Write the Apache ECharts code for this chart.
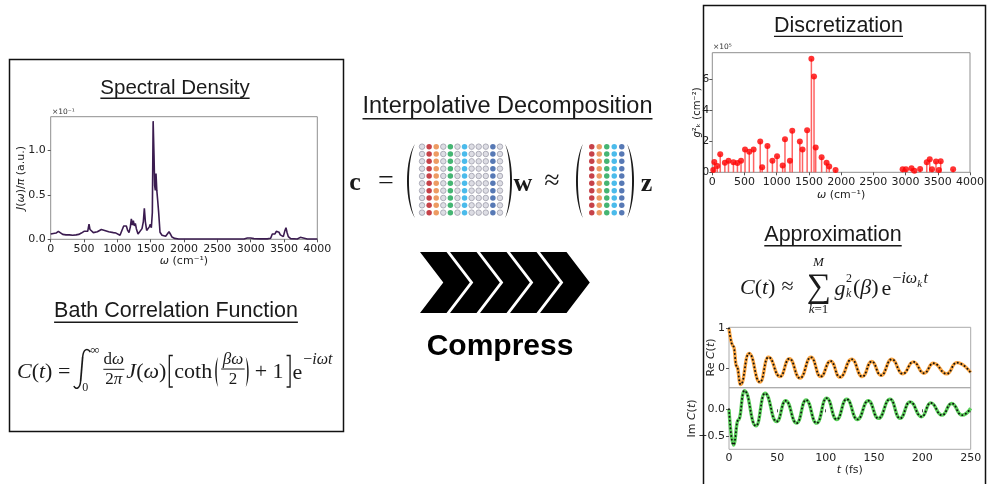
<!DOCTYPE html>
<html>
<head>
<meta charset="utf-8">
<script src="https://cdn.jsdelivr.net/npm/echarts@6/dist/echarts.min.js"></script>
<style>
html, body { margin: 0; padding: 0; background: #fff; }
#chart { width: 987px; height: 484px; }
</style>
</head>
<body>
<div id="chart"></div>
<script>
// spectral density J(w)/pi, units of 1e-1
const specOmega = [0, 40, 80, 115, 140, 180, 230, 280, 330, 380, 420, 460, 500, 530, 555, 575, 590, 610, 640, 670,
  700, 730, 760, 785, 810, 840, 870, 900, 940, 980, 1010, 1040, 1070, 1095, 1115, 1135, 1155, 1175, 1195, 1210,
  1225, 1240, 1255, 1270, 1285, 1310, 1340, 1370, 1390, 1405, 1420, 1440, 1460, 1480, 1495, 1510, 1525, 1537, 1550, 1560,
  1570, 1580, 1592, 1605, 1620, 1640, 1670, 1700, 1725, 1750, 1775, 1795, 1820, 1860, 1920, 2000, 2500, 2900, 2950, 2975,
  3000, 3050, 3150, 3250, 3300, 3325, 3345, 3365, 3385, 3405, 3425, 3445, 3470, 3490, 3515, 3530, 3545, 3565, 3600, 3700,
  3745, 3770, 3850, 4000]
const specJ = [0.06, 0.065, 0.07, 0.09, 0.07, 0.055, 0.05, 0.05, 0.045, 0.05, 0.055, 0.07, 0.09, 0.1, 0.09, 0.17, 0.11, 0.09, 0.075, 0.07,
  0.085, 0.095, 0.11, 0.125, 0.1, 0.09, 0.085, 0.08, 0.075, 0.07, 0.06, 0.045, 0.06, 0.15, 0.13, 0.15, 0.1, 0.075, 0.14, 0.23,
  0.16, 0.21, 0.15, 0.18, 0.12, 0.06, 0.07, 0.12, 0.2, 0.35, 0.2, 0.1, 0.08, 0.14, 0.17, 0.13, 0.3, 1.33, 0.95, 0.6,
  0.55, 0.74, 0.55, 0.44, 0.3, 0.08, 0.045, 0.05, 0.035, 0.04, 0.085, 0.06, 0.025, 0.01, 0.004, 0.003, 0.003, 0.004, 0.015, 0.022,
  0.015, 0.008, 0.005, 0.005, 0.012, 0.06, 0.075, 0.06, 0.09, 0.07, 0.08, 0.05, 0.035, 0.03, 0.1, 0.13, 0.08, 0.03, 0.008, 0.004,
  0.022, 0.008, 0.003, 0.003]

// discretized modes g_k^2, units of 1e5
const discOmega = [15, 31, 77, 123, 195, 251, 328, 390, 446, 508, 574, 641, 744, 774, 856, 933, 1005, 1092, 1128, 1205,
  1241, 1359, 1400, 1472, 1538, 1579, 1605, 1697, 1774, 1815, 1913, 2954, 3006, 3092, 3138, 3226, 3329, 3375, 3411, 3472,
  3518, 3545, 3738]
const discG2 = [0.15, 0.67, 0.41, 1.16, 0.62, 0.75, 0.65, 0.6, 0.75, 1.46, 1.33, 1.46, 1.98, 0.32, 1.7, 0.75, 1.03, 0.43, 2.13, 0.75,
  2.67, 1.98, 1.46, 2.71, 7.31, 6.17, 1.59, 0.97, 0.62, 0.37, 0.15, 0.19, 0.19, 0.26, 0.1, 0.22, 0.65, 0.84, 0.2, 0.69,
  0.15, 0.71, 0.19]

// correlation function, t in fs
const reT = [0, 4.5, 8, 12, 20.7, 32, 40.7, 52.8, 62.4, 73.4, 84.8, 94.8, 105, 114.8, 126.9, 137.9, 147.6, 157.2, 168.3, 179.7,
  190.7, 201.7, 211.4, 225.2, 235.5, 250]
const reC = [1.0, 0.55, 0.05, -0.41, 0.375, -0.35, 0.28, -0.21, 0.24, -0.25, 0.275, -0.21, 0.18, -0.225, 0.225, -0.21, 0.17, -0.18, 0.225, -0.14,
  0.16, -0.125, 0.125, -0.14, 0.14, -0.11]
const imT = [0, 4.5, 9.7, 15.9, 27.9, 37.2, 49.3, 58.6, 70, 79.7, 90.7, 101, 111.4, 121.7, 132.8, 144.1, 154.5, 166.6, 176.9, 187.2,
  199.3, 208.6, 220.3, 230.3, 241, 250]
const imC = [0, -0.67, -0.2, 0.35, -0.31, 0.3, -0.23, 0.16, -0.26, 0.175, -0.26, 0.21, -0.19, 0.19, -0.19, 0.16, -0.17, 0.19, -0.17, 0.14,
  -0.14, 0.12, -0.11, 0.11, -0.11, 0.02]

const specTicks = [0, 0.5, 1.0]
const discTicks = [0, 2, 4, 6]
const reTicks = [0, 1]
const imTicks = [-0.5, 0]

// matrix cartoon: colour of each column
const matrixRows = 10
const fullCols = ['gray', 'red', 'orange', 'gray', 'green', 'gray', 'sky', 'gray', 'gray', 'gray', 'navy', 'gray']
const skelCols = ['red', 'orange', 'green', 'sky', 'navy']

const INK = '#1a1a1a'
const SERIF = '"Liberation Serif", "DejaVu Serif", serif'
const SANS = '"Liberation Sans", Arial, sans-serif'
const DJ = '"DejaVu Sans", sans-serif'

const dotColors = {
  red: '#b8131c',
  orange: '#e9823c',
  green: '#17a350',
  sky: '#1eaae6',
  navy: '#2d57a3',
}

const ctx = document.createElement('canvas').getContext('2d')
const measure = (text, font) => {
  ctx.font = font
  return ctx.measureText(text).width
}
const serif = (size, italic) => `${italic ? 'italic ' : ''}${size}px ${SERIF}`
// width of a run of [text, italic] pieces
const runWidth = (parts, size) => parts.reduce((s, [t, it]) => s + measure(t, serif(size, it)), 0)

const mathRich = size => ({ i: { font: serif(size, true), fill: INK } })

const tx = (x, y, text, size, o = {}) => {
  const font = `${o.italic ? 'italic ' : ''}${o.bold ? 'bold ' : ''}${size}px ${o.family || SERIF}`
  const align = o.align || 'left'
  return {
    type: 'text',
    x,
    y,
    z: 10,
    style: {
      text,
      font,
      fill: o.fill || INK,
      align,
      textAlign: align,
      verticalAlign: 'middle',
      textVerticalAlign: 'middle',
      rich: o.rich,
    },
  }
}

const line = (x1, y1, x2, y2, w = 1.2) => ({
  type: 'line',
  z: 10,
  shape: { x1, y1, x2, y2 },
  style: { stroke: INK, lineWidth: w },
})

const polyline = (points, w = 1.3) => ({
  type: 'polyline',
  z: 10,
  shape: { points },
  style: { stroke: INK, lineWidth: w, fill: null },
})

const polygon = (points, fill = INK) => ({
  type: 'polygon',
  z: 10,
  shape: { points },
  style: { fill },
})

const curve = (x1, y1, cpx1, cpy1, cpx2, cpy2, x2, y2, w = 1.5) => ({
  type: 'bezierCurve',
  z: 10,
  shape: { x1, y1, cpx1, cpy1, cpx2, cpy2, x2, y2 },
  style: { stroke: INK, lineWidth: w, fill: null },
})

const bez = (a, b, c, d, t) => {
  const s = 1 - t
  return s * s * s * a + 3 * s * s * t * b + 3 * s * t * t * c + t * t * t * d
}

// tall parenthesis as a filled crescent
const paren = (tipX, midX, y1, y2, w = 2.6) => {
  const bx = (midX - 0.25 * tipX) / 0.75
  const ix = bx + Math.sign(tipX - midX) * w
  const h = y2 - y1
  const a = y1 + h * 0.22
  const b = y2 - h * 0.22
  const pts = []
  for (let k = 0; k <= 20; k++) {
    const t = k / 20
    pts.push([bez(tipX, bx, bx, tipX, t), bez(y1, a, b, y2, t)])
  }
  for (let k = 20; k >= 0; k--) {
    const t = k / 20
    pts.push([bez(tipX, ix, ix, tipX, t), bez(y1, a, b, y2, t)])
  }
  return polygon(pts)
}

const title = (cx, cy, text, size) => {
  const w = measure(text, `${size}px ${SANS}`)
  return [
    tx(cx, cy, text, size, { family: SANS, align: 'center' }),
    line(cx - w / 2, cy + size * 0.5, cx + w / 2, cy + size * 0.5, 1.3),
  ]
}

const chevrons = () => {
  const out = []
  for (let i = 0; i < 5; i++) {
    const x0 = 420 + i * 30
    const top = 252
    const bot = 313
    const mid = (top + bot) / 2
    out.push(polygon([[x0, top], [x0 + 26.5, top], [x0 + 49.8, mid], [x0 + 26.5, bot], [x0, bot], [x0 + 23.3, mid]], '#000'))
  }
  return out
}

// C(t) = int dw/2pi J(w) [coth(bw/2) + 1] e^{-iwt}
const bathFormula = () => {
  const out = []
  const Y = 372
  const F = 22
  let x = 17
  out.push(tx(x, Y, '{i|C}({i|t}) =', F, { rich: mathRich(F) }))
  x += runWidth([['C', 1], ['(', 0], ['t', 1], [') =', 0]], F) + 5
  // integral sign with limits
  out.push(
    curve(x + 15, 352, x + 12, 347.5, x + 8, 349, x + 7.3, 357),
    line(x + 7.3, 357, x + 5.3, 381, 1.7),
    curve(x + 5.3, 381, x + 4.6, 389, x + 0.5, 390, x - 1.5, 386),
    tx(x + 15, 351, '∞', 13),
    tx(x + 7, 388, '0', 12)
  )
  x += 28
  const fw = runWidth([['2', 0], ['π', 1]], 17) + 4
  out.push(
    tx(x + fw / 2, 360, 'd{i|ω}', 17, { align: 'center', rich: mathRich(17) }),
    line(x, 369.3, x + fw, 369.3, 1),
    tx(x + fw / 2, 379.5, '2{i|π}', 17, { align: 'center', rich: mathRich(17) })
  )
  x += fw + 2
  out.push(tx(x, Y, '{i|J}({i|ω})', F, { rich: mathRich(F) }))
  x += runWidth([['J', 1], ['(', 0], ['ω', 1], [')', 0]], F) + 3
  out.push(polyline([[x + 3.5, 355.5], [x, 355.5], [x, 387], [x + 3.5, 387]]))
  x += 5
  out.push(tx(x, Y, 'coth', F))
  x += measure('coth', serif(F)) + 2
  out.push(paren(x + 4, x + 1, 357, 387, 2))
  x += 7
  const bw = runWidth([['βω', 1]], 17) + 3
  out.push(
    tx(x + bw / 2, 360, '{i|βω}', 17, { align: 'center', rich: mathRich(17) }),
    line(x, 369, x + bw, 369, 1),
    tx(x + bw / 2, 379.5, '2', 17, { align: 'center' })
  )
  x += bw + 1
  out.push(paren(x, x + 3, 357, 387, 2))
  x += 9
  out.push(tx(x, Y, '+ 1', F))
  x += measure('+ 1', serif(F)) + 3
  out.push(polyline([[x, 355.5], [x + 3.5, 355.5], [x + 3.5, 387], [x, 387]]))
  x += 6
  out.push(tx(x, Y + 1, 'e', F))
  x += measure('e', serif(F)) + 1
  out.push(tx(x, 360, '−{i|iωt}', 16, { rich: mathRich(16) }))
  return out
}

// C(t) ~ sum_k g_k^2(b) e^{-i w_k t}
const approxFormula = () => {
  const out = []
  const Y = 288
  const F = 22
  let x = 740
  out.push(tx(x, Y, '{i|C}({i|t})', F, { rich: mathRich(F) }))
  x += runWidth([['C', 1], ['(', 0], ['t', 1], [')', 0]], F) + 6
  out.push(tx(x, Y - 1, '≈', F))
  x += measure('≈', serif(F)) + 12
  out.push(
    tx(x + 13, Y, '∑', 34, { align: 'center' }),
    tx(x + 13, 263, '{i|M}', 13, { align: 'center', rich: mathRich(13) }),
    tx(x + 13, 310, '{i|k}=1', 13, { align: 'center', rich: mathRich(13) })
  )
  x += 29
  out.push(tx(x, Y + 1, 'g', F, { italic: true }))
  x += measure('g', serif(F, true)) + 0.5
  out.push(tx(x, 279, '2', 12), tx(x, 294, 'k', 12, { italic: true }))
  x += 7
  out.push(tx(x, Y, '({i|β})', F, { rich: mathRich(F) }))
  x += runWidth([['(', 0], ['β', 1], [')', 0]], F) + 3
  out.push(tx(x, Y + 1, 'e', F))
  x += measure('e', serif(F)) + 1
  out.push(tx(x, 279, '−{i|iω}', 16, { rich: mathRich(16) }))
  x += runWidth([['−', 0], ['iω', 1]], 16)
  out.push(tx(x, 284, 'k', 11, { italic: true }))
  x += measure('k', serif(11, true)) + 1.5
  out.push(tx(x, 279, 't', 16, { italic: true }))
  return out
}

const graphics = [
  // panels
  { type: 'rect', z: 10, shape: { x: 9.5, y: 59.5, width: 334, height: 372 }, style: { fill: null, stroke: '#111', lineWidth: 1.5 } },
  { type: 'rect', z: 10, shape: { x: 703.5, y: 5.5, width: 282, height: 490 }, style: { fill: null, stroke: '#111', lineWidth: 1.5 } },

  ...title(175, 88, 'Spectral Density', 20.5),
  ...title(176, 311.5, 'Bath Correlation Function', 21.5),
  ...title(507.5, 107, 'Interpolative Decomposition', 23.5),
  ...title(838.5, 25.7, 'Discretization', 21.5),
  ...title(833, 235, 'Approximation', 21.5),

  tx(52, 112, '×10⁻¹', 7.5, { family: DJ, fill: '#333' }),
  tx(713, 47, '×10⁵', 7.5, { family: DJ, fill: '#333' }),

  ...bathFormula(),

  // interpolative decomposition formula
  tx(355, 183, 'c', 26, { bold: true, align: 'center' }),
  tx(386, 182, '=', 28, { align: 'center' }),
  paren(415, 407, 144, 218),
  paren(505, 512, 144, 218),
  tx(523, 184, 'w', 26, { bold: true, align: 'center' }),
  tx(552, 182, '≈', 28, { align: 'center' }),
  paren(583, 576, 144, 218),
  paren(627, 634, 144, 218),
  tx(646.5, 184, 'z', 26, { bold: true, align: 'center' }),

  ...chevrons(),
  tx(500, 347, 'Compress', 30, { bold: true, family: SANS, align: 'center', fill: '#000' }),

  ...approxFormula(),
]

const matrixData = cols => {
  const out = []
  for (let r = 0; r < matrixRows; r++) {
    cols.forEach((c, j) => {
      out.push({
        value: [j, r],
        itemStyle: c === 'gray'
          ? { color: '#d4d5dd', borderColor: '#9d9eab', borderWidth: 1 }
          : { color: dotColors[c] },
      })
    })
  }
  return out
}

const labelStyle = { color: '#222', fontSize: 11, fontFamily: DJ }
const nameStyle = {
  color: '#222',
  fontSize: 11,
  fontFamily: DJ,
  rich: {
    i: { color: '#222', fontSize: 11, fontFamily: DJ, fontStyle: 'italic' },
    n: { color: '#222', fontSize: 11, fontFamily: DJ },
  },
}
const tick = { show: true, length: 3, lineStyle: { color: '#555' } }
const frame = { show: true, borderColor: '#8f8f8f', borderWidth: 1, backgroundColor: 'transparent' }
const plain = v => String(v)
const dots = { color: '#111', width: 1.9, type: [0.1, 3.7], cap: 'round' }

const option = {
  backgroundColor: '#fff',
  animation: false,
  graphic: graphics,
  grid: [
    { ...frame, left: 50.7, top: 116.7, width: 266.6, height: 122.6 },
    { ...frame, left: 712.3, top: 52.7, width: 260.4, height: 119.6 },
    { ...frame, left: 729, top: 327.3, width: 241.7, height: 60.4, borderColor: '#aaa' },
    { ...frame, left: 729, top: 387.7, width: 241.7, height: 61.6, borderColor: '#aaa' },
    { left: 418.5, top: 143, width: 85, height: 73.3 },
    { left: 588, top: 143, width: 37.5, height: 73.3 },
  ],
  xAxis: [
    {
      gridIndex: 0, type: 'value', min: 0, max: 4000, interval: 500,
      axisLine: { show: false }, axisTick: tick, splitLine: { show: false },
      axisLabel: { ...labelStyle, margin: 4, formatter: plain },
      name: '{i|ω} (cm⁻¹)', nameLocation: 'middle', nameGap: 16, nameTextStyle: nameStyle,
    },
    {
      gridIndex: 1, type: 'value', min: 0, max: 4000, interval: 500,
      axisLine: { show: false }, axisTick: tick, splitLine: { show: false },
      axisLabel: { ...labelStyle, margin: 4, formatter: plain },
      name: '{i|ω} (cm⁻¹)', nameLocation: 'middle', nameGap: 17, nameTextStyle: nameStyle,
    },
    {
      gridIndex: 2, type: 'value', min: 0, max: 250, interval: 50,
      axisLine: { show: false }, axisTick: { show: false }, splitLine: { show: false }, axisLabel: { show: false },
    },
    {
      gridIndex: 3, type: 'value', min: 0, max: 250, interval: 50,
      axisLine: { show: false }, axisTick: tick, splitLine: { show: false },
      axisLabel: { ...labelStyle, margin: 3, formatter: plain },
      name: '{i|t} (fs)', nameLocation: 'middle', nameGap: 13, nameTextStyle: nameStyle,
    },
    { gridIndex: 4, type: 'value', min: -0.5, max: fullCols.length - 0.5, show: false },
    { gridIndex: 5, type: 'value', min: -0.5, max: skelCols.length - 0.5, show: false },
  ],
  yAxis: [
    {
      gridIndex: 0, type: 'value', min: 0, max: 1.38,
      axisLine: { show: false }, splitLine: { show: false },
      axisTick: { ...tick, customValues: specTicks },
      axisLabel: { ...labelStyle, margin: 5, customValues: specTicks, formatter: v => v.toFixed(1) },
      name: '{i|J}({i|ω})/{i|π} (a.u.)', nameLocation: 'middle', nameGap: 24, nameMoveOverlap: false, nameTextStyle: nameStyle,
    },
    {
      gridIndex: 1, type: 'value', min: 0, max: 7.7,
      axisLine: { show: false }, splitLine: { show: false },
      axisTick: { ...tick, customValues: discTicks },
      axisLabel: { ...labelStyle, margin: 3, customValues: discTicks },
      name: '{i|g}²ₖ (cm⁻²)', nameLocation: 'middle', nameGap: 10, nameMoveOverlap: false,
      nameTextStyle: { ...nameStyle, fontSize: 10, rich: { i: { ...nameStyle.rich.i, fontSize: 10 } } },
    },
    {
      gridIndex: 2, type: 'value', min: -0.49, max: 1.03,
      axisLine: { show: false }, splitLine: { show: false },
      axisTick: { ...tick, customValues: reTicks },
      axisLabel: { ...labelStyle, margin: 4, customValues: reTicks, formatter: plain },
      name: '{n|Re }{i|C}{n|(}{i|t}{n|)}', nameLocation: 'middle', nameGap: 12, nameMoveOverlap: false, nameTextStyle: nameStyle,
    },
    {
      gridIndex: 3, type: 'value', min: -0.75, max: 0.405,
      axisLine: { show: false }, splitLine: { show: false },
      axisTick: { ...tick, customValues: imTicks },
      axisLabel: { ...labelStyle, margin: 4, customValues: imTicks, formatter: v => (v < 0 ? '−' : '') + Math.abs(v).toFixed(1) },
      name: '{n|Im }{i|C}{n|(}{i|t}{n|)}', nameLocation: 'middle', nameGap: 31, nameMoveOverlap: false, nameTextStyle: nameStyle,
    },
    { gridIndex: 4, type: 'value', min: -0.5, max: matrixRows - 0.5, inverse: true, show: false },
    { gridIndex: 5, type: 'value', min: -0.5, max: matrixRows - 0.5, inverse: true, show: false },
  ],
  series: [
    {
      name: 'J', type: 'line', xAxisIndex: 0, yAxisIndex: 0,
      data: specOmega.map((w, i) => [w, specJ[i]]),
      showSymbol: false, lineStyle: { color: '#3b1c50', width: 1.6 },
    },
    {
      name: 'stems', type: 'bar', xAxisIndex: 1, yAxisIndex: 1,
      data: discOmega.map((w, i) => [w, discG2[i]]),
      barWidth: 1.5, itemStyle: { color: 'rgba(255, 60, 60, 0.8)' },
    },
    {
      name: 'modes', type: 'scatter', xAxisIndex: 1, yAxisIndex: 1,
      data: discOmega.map((w, i) => [w, discG2[i]]),
      symbolSize: 6, itemStyle: { color: '#ff0000' },
    },
    {
      name: 'Re approx', type: 'line', xAxisIndex: 2, yAxisIndex: 2,
      data: reT.map((t, i) => [t, reC[i]]), smooth: 0.5, smoothMonotone: 'x',
      showSymbol: false, lineStyle: { color: '#f8a442', width: 3.4 },
    },
    {
      name: 'Re exact', type: 'line', xAxisIndex: 2, yAxisIndex: 2,
      data: reT.map((t, i) => [t, reC[i]]), smooth: 0.5, smoothMonotone: 'x',
      showSymbol: false, lineStyle: dots,
    },
    {
      name: 'Im approx', type: 'line', xAxisIndex: 3, yAxisIndex: 3,
      data: imT.map((t, i) => [t, imC[i]]), smooth: 0.5, smoothMonotone: 'x',
      showSymbol: false, lineStyle: { color: '#5ccf5c', width: 3.4 },
    },
    {
      name: 'Im exact', type: 'line', xAxisIndex: 3, yAxisIndex: 3,
      data: imT.map((t, i) => [t, imC[i]]), smooth: 0.5, smoothMonotone: 'x',
      showSymbol: false, lineStyle: dots,
    },
    {
      name: 'C', type: 'scatter', xAxisIndex: 4, yAxisIndex: 4,
      data: matrixData(fullCols), symbolSize: 5.5,
    },
    {
      name: 'skeleton', type: 'scatter', xAxisIndex: 5, yAxisIndex: 5,
      data: matrixData(skelCols), symbolSize: 5.5,
    },
  ],
}

const chart = echarts.init(document.getElementById('chart'))
chart.setOption(option)
</script>
</body>
</html>
